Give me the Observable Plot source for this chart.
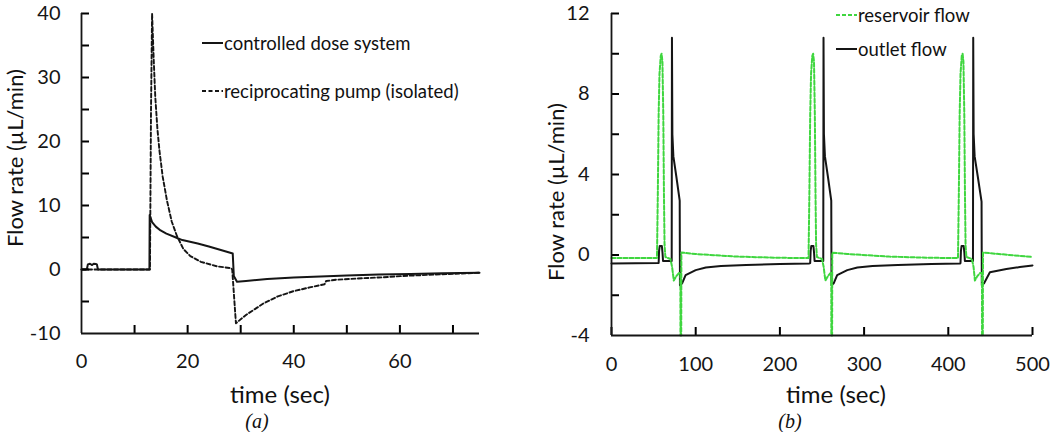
<!DOCTYPE html>
<html><head><meta charset="utf-8">
<script src="https://cdn.jsdelivr.net/npm/d3@7"></script>
<script src="https://cdn.jsdelivr.net/npm/@observablehq/plot@0.6"></script>
<style>
body{margin:0;background:#fff;font-family:Lato,sans-serif;}
#wrap{position:relative;width:1050px;height:432px;overflow:hidden;background:#fff;}
.panel{position:absolute;top:0;width:525px;height:432px;}
.panel svg{max-width:none !important;}
.lab{position:absolute;font-size:24px;color:#111;white-space:nowrap;transform:translate(-50%,-50%);}
.ylab{font-size:22px;transform:translate(-50%,-50%) rotate(-90deg);}
.cap{position:absolute;font-family:"Liberation Serif",serif;font-style:italic;font-size:20px;color:#111;transform:translate(-50%,-50%);}
.leg{position:absolute;font-size:18.5px;color:#111;display:flex;align-items:center;white-space:nowrap;transform:translateY(-50%);}
.leg svg{display:block;}
</style></head><body><div id="wrap"></div>
<script>
// ---------- Panel (a) data ----------
const doseT = [0, 1.0, 1.2, 1.6, 2.0, 2.3, 2.7, 2.9, 3.1, 12.8, 12.85, 13.3, 14, 14.9, 16, 17.8, 19, 21.9, 24, 26.9, 28.5, 28.7, 29.3, 31, 35, 40, 45, 50, 56, 62, 68, 75];
const doseV = [0, 0, 0.8, 0.9, 0.7, 0.9, 0.85, 0.8, 0, 0, 8.5, 7.4, 6.7, 6.1, 5.6, 5.0, 4.6, 4.06, 3.6, 2.9, 2.5, -1.0, -1.9, -1.8, -1.5, -1.25, -1.1, -0.95, -0.8, -0.7, -0.6, -0.5];
const pumpT = [0, 12.9, 13.1, 13.3, 13.6, 13.9, 14.3, 14.7, 15.3, 16.1, 17, 18, 19.2, 20.5, 22.5, 25.5, 28.2, 28.4, 29.1, 31, 34.3, 37, 39.9, 43, 45.8, 46.1, 48, 52, 56, 62, 68, 75];
const pumpV = [0, 0, 25, 40, 33, 27, 22, 18.5, 14.5, 10.8, 7.5, 5.2, 3.2, 2.1, 1.2, 0.5, 0.2, 0.0, -8.4, -7.1, -5.3, -4.2, -3.4, -2.8, -2.3, -1.8, -1.6, -1.4, -1.25, -0.95, -0.75, -0.5];
const xTicksA = [0, 20, 40, 60];
const xMinorA = [10, 20, 30, 40, 50, 60, 70];
const yTicksA = [-10, 0, 10, 20, 30, 40];
const yMinorA = [-5, 0, 5, 10, 15, 20, 25, 30, 35, 40];

// ---------- Panel (b) data ----------
const outT = [0, 56, 56.5, 57.3, 59.8, 60.6, 61.2, 71.5, 71.8, 72.3, 73.5, 77, 81, 81.3, 84, 88, 100, 112, 130, 160, 200,
  235, 236, 236.5, 237.3, 239.8, 240.6, 241.2, 251.5, 251.8, 252.3, 253.5, 257, 261, 261.3, 264, 268, 280, 292, 310, 340, 380,
  414, 414.5, 415, 415.8, 418.3, 419.1, 419.7, 429.3, 429.6, 430.1, 431.3, 435, 439.5, 439.8, 442.5, 449.4, 469, 485, 500];
const outV = [-0.42, -0.4, 0.2, 0.45, 0.45, 0.1, -0.3, -0.3, 10.8, 6.0, 4.9, 3.9, 2.7, -1.5, -1.4, -1.0, -0.75, -0.62, -0.55, -0.5, -0.45,
  -0.42, -0.4, 0.2, 0.45, 0.45, 0.1, -0.3, -0.3, 10.8, 6.0, 4.9, 3.9, 2.7, -1.5, -1.4, -1.0, -0.75, -0.62, -0.55, -0.5, -0.45,
  -0.42, -0.4, 0.2, 0.45, 0.45, 0.1, -0.3, -0.3, 10.8, 6.0, 4.9, 3.9, 2.65, -1.5, -1.4, -0.86, -0.7, -0.6, -0.52];
const resT = [0, 54, 55, 56, 57, 58.5, 59.5, 60.5, 61.5, 62.3, 63, 64, 70, 72, 74, 77, 80, 81.8, 81.9, 82.8, 83, 100, 150, 200,
  234, 235, 236, 237, 238.5, 239.5, 240.5, 241.5, 242.3, 243, 244, 250, 252, 254, 257, 260, 261, 261.1, 262, 262.2, 280, 330, 380,
  411.5, 412.5, 413.5, 414.5, 416, 417, 418, 419, 419.8, 420.5, 421.5, 428, 430, 431.6, 434.5, 437.5, 440, 440.1, 441, 441.2, 460, 500];
const resV = [-0.15, -0.15, 3, 7, 9, 9.9, 10, 9.6, 7, 3, 0.5, -0.1, -0.2, -0.6, -1.27, -1.05, -0.9, -0.9, -4, -4, 0.12, 0.05, -0.08, -0.14,
  -0.15, 3, 7, 9, 9.9, 10, 9.6, 7, 3, 0.5, -0.1, -0.2, -0.6, -1.27, -1.05, -0.9, -0.9, -4, -4, 0.12, 0.05, -0.08, -0.14,
  -0.15, 3, 7, 9, 9.9, 10, 9.6, 7, 3, 0.5, -0.1, -0.2, -0.6, -1.27, -1.05, -0.9, -0.9, -4, -4, 0.12, 0.05, -0.1];
const xTicksB = [0, 100, 200, 300, 400, 500];
const yTicksB = [-4, 0, 4, 8, 12];
const yMinorB = [-2, 0, 2, 4, 6, 8, 10, 12];

const GREEN = "#3fd63f";
const INK = "#151515";
const TICK = 8;
const toRows = (T, V) => T.map((t, i) => ({t, v: V[i]}));
const fmt = d => String(d);

const baseStyle = {fontFamily: "Lato, sans-serif", fontSize: "20px", color: INK, background: "transparent", overflow: "visible"};

function panel({W, H, mL, mR, mT, mB, xDom, yDom, xMinor, xMajor, yMinor, yMajor, yPad, xPad, lines}) {
  const fw = W - mL - mR, fh = H - mT - mB;
  // inward tick length expressed in data units of each scale
  const dxTick = (xDom[1] - xDom[0]) * TICK / fw;
  const dyTick = (yDom[1] - yDom[0]) * TICK / fh;
  return Plot.plot({
    width: W, height: H,
    marginLeft: mL, marginRight: mR, marginTop: mT, marginBottom: mB,
    style: baseStyle,
    x: {domain: xDom},
    y: {domain: yDom},
    marks: [
      Plot.axisY(yMajor, {tickSize: 0, tickPadding: yPad, fontSize: 20, tickFormat: fmt, label: null}),
      Plot.axisX(xMajor, {tickSize: 0, tickPadding: xPad, fontSize: 20, tickFormat: fmt, label: null}),
      ...lines,
      Plot.ruleY(yMinor, {y: d => d, x1: () => xDom[0], x2: () => xDom[0] + dxTick, stroke: "#000", strokeWidth: 2}),
      Plot.ruleX(xMinor, {x: d => d, y1: () => yDom[0], y2: () => yDom[0] + dyTick, stroke: "#000", strokeWidth: 2}),
      Plot.ruleX([xDom[0]], {stroke: INK, strokeWidth: 1.8}),
      Plot.ruleY([yDom[0]], {stroke: INK, strokeWidth: 1.8})
    ]
  });
}

const plotA = panel({
  W: 525, H: 432, mL: 81, mR: 46, mT: 13, mB: 99,
  xDom: [0, 75], yDom: [-10, 40],
  xMinor: xMinorA, xMajor: xTicksA, yMinor: yMinorA, yMajor: yTicksA, yPad: 21, xPad: 20,
  lines: [
    Plot.line(toRows(pumpT, pumpV), {x: "t", y: "v", stroke: INK, strokeWidth: 1.9, strokeDasharray: "4,2.5"}),
    Plot.line(toRows(doseT, doseV), {x: "t", y: "v", stroke: INK, strokeWidth: 2})
  ]
});

const plotB = panel({
  W: 525, H: 432, mL: 86, mR: 18, mT: 13, mB: 97,
  xDom: [0, 500], yDom: [-4, 12],
  xMinor: xTicksB, xMajor: xTicksB, yMinor: yMinorB, yMajor: yTicksB, yPad: 22, xPad: 21,
  lines: [
    Plot.line(toRows(outT, outV), {x: "t", y: "v", stroke: INK, strokeWidth: 2}),
    Plot.line(toRows(resT, resV), {x: "t", y: "v", stroke: GREEN, strokeWidth: 2, strokeDasharray: "4,2"})
  ]
});

const wrap = document.getElementById("wrap");
const pa = document.createElement("div"); pa.className = "panel"; pa.style.left = "0px"; pa.appendChild(plotA); wrap.appendChild(pa);
const pb = document.createElement("div"); pb.className = "panel"; pb.style.left = "525px"; pb.appendChild(plotB); wrap.appendChild(pb);

function addText(cls, txt, x, y) {
  const d = document.createElement("div");
  d.className = cls; d.textContent = txt;
  d.style.left = x + "px"; d.style.top = y + "px";
  wrap.appendChild(d);
}
addText("lab ylab", "Flow rate (µL/min)", 14, 158);
addText("lab ylab", "Flow rate (µL/min)", 555, 192);
addText("lab", "time (sec)", 280, 393);
addText("lab", "time (sec)", 836, 393);
addText("cap", "(a)", 257, 421);
addText("cap", "(b)", 790, 421);

function addLegend(x, y, label, color, dash) {
  const d = document.createElement("div");
  d.className = "leg"; d.style.left = x + "px"; d.style.top = y + "px";
  d.innerHTML = `<svg width="21" height="6"><line x1="0" y1="3" x2="21" y2="3" stroke="${color}" stroke-width="2" ${dash ? `stroke-dasharray="${dash}"` : ""}/></svg><span style="margin-left:1px">${label}</span>`;
  wrap.appendChild(d);
}
addLegend(202, 43, "controlled dose system", INK, null);
addLegend(202, 91, "reciprocating pump (isolated)", INK, "4,2.5");
addLegend(836, 15, "reservoir flow", GREEN, "4,2");
addLegend(836, 49, "outlet flow", INK, null);
</script>
</body></html>
